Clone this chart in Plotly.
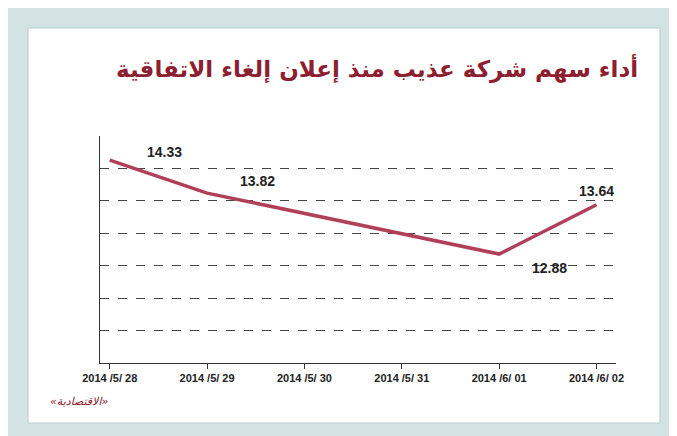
import plotly.graph_objects as go

# data
all_dates = ["2014 /5/ 28", "2014 /5/ 29", "2014 /5/ 30", "2014 /5/ 31", "2014 /6/ 01", "2014 /6/ 02"]
dates = ["2014 /5/ 28", "2014 /5/ 29", "2014 /6/ 01", "2014 /6/ 02"]
prices = [14.33, 13.82, 12.88, 13.64]
labels = ["14.33", "13.82", "12.88", "13.64"]

title = "أداء سهم شركة عذيب منذ إعلان إلغاء الاتفاقية"
source = "«الاقتصادية»"

line_color = "#b04058"

fig = go.Figure(go.Scatter(
    x=dates, y=prices, mode="lines",
    line=dict(color=line_color, width=3.5),
    hoverinfo="x+y",
))

offsets = [(55, -8), (50, -12), (50, 14), (0, -14)]
for d, p, t, (ax, ay) in zip(dates, prices, labels, offsets):
    fig.add_annotation(x=d, y=p, text="<b>" + t + "</b>", showarrow=False, xshift=ax, yshift=-ay,
                       font=dict(family="Liberation Sans", size=14, color="#222"))

fig.update_layout(
    width=677, height=436,
    paper_bgcolor="#d3e3e3",
    plot_bgcolor="white",
    margin=dict(l=92, r=69, t=128, b=81),
    showlegend=False,
    font=dict(family="Liberation Sans", color="#222"),
    xaxis=dict(type="category", categoryorder="array", categoryarray=all_dates,
               range=[-0.1, 5.2], showgrid=False, showline=True, linecolor="#333",
               linewidth=1, ticks="outside", ticklen=5, tickcolor="#333",
               tickfont=dict(size=11, color="#222"), tickprefix="<b>", ticksuffix="</b>",
               fixedrange=True),
    yaxis=dict(range=[11.2, 14.701], tickvals=[11.7, 12.2, 12.7, 13.2, 13.7, 14.2, 14.7],
               showticklabels=False,
               showgrid=True, gridcolor="#444", griddash="dash", gridwidth=1,
               showline=True, linecolor="#333", linewidth=1, zeroline=False,
               fixedrange=True),
    shapes=[dict(type="rect", xref="paper", yref="paper",
                 x0=-72 / 516, x1=1 + 44 / 516, y0=-60 / 227, y1=1 + 108 / 227,
                 fillcolor="white", line=dict(color="#b8cccc", width=1), layer="below")],
)

fig.add_annotation(text="<b>" + title + "</b>", xref="paper", yref="paper",
                   x=1 + 24 / 516, y=1 + 68 / 227, xanchor="right", yanchor="middle",
                   showarrow=False, font=dict(family="DejaVu Sans", size=23, color="#8c2030"))
fig.add_annotation(text="<i>" + source + "</i>", xref="paper", yref="paper",
                   x=-52 / 516, y=-38 / 227, xanchor="left", yanchor="middle",
                   showarrow=False, font=dict(family="DejaVu Sans", size=11, color="#8c2030"))

fig.write_html("out.html")
